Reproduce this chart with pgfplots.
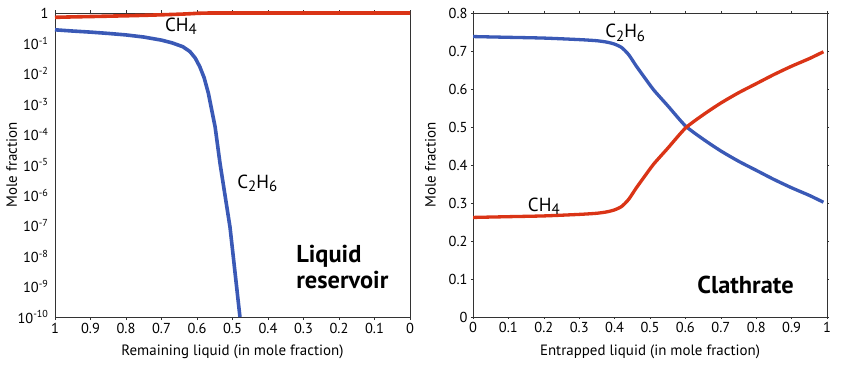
\documentclass[border=0pt]{standalone}
\usepackage{fontspec}
\setmainfont{PT Sans}
\usepackage{pgfplots}
\pgfplotsset{compat=1.18}
\definecolor{cblue}{HTML}{3A59B6}
\definecolor{cred}{HTML}{DA3416}
\definecolor{caxis}{HTML}{333333}

\newcommand{\sub}[1]{\raisebox{-0.35ex}{\fontsize{15}{15}\selectfont #1}}

\pgfplotsset{
  panel/.style={
    scale only axis, width=355bp, height=304bp,
    axis line style={caxis, line width=0.9bp},
    tick align=outside, major tick length=3bp,
    tick style={caxis, line width=0.6bp},
    /pgf/number format/assume math mode=true,
    tick label style={font=\fontsize{14.5}{14.5}\selectfont},
    label style={font=\fontsize{15}{15}\selectfont},
    xlabel style={at={(axis description cs:0.5,0)}, anchor=center, yshift=-35bp},
    ylabel style={at={(axis description cs:-0.122,0.5)}, anchor=center, rotate=0},
    xtick={0,0.1,...,1},
    xticklabels={0,0.1,0.2,0.3,0.4,0.5,0.6,0.7,0.8,0.9,1},
    xmin=0, xmax=1,
  },
}
\tikzset{
  gas/.style={font=\fontsize{19}{19}\selectfont},
  tag/.style={font=\fontsize{24.5}{26}\selectfont\bfseries, align=left},
}

\begin{document}
\begin{tikzpicture}[x=1bp,y=1bp]
\path[use as bounding box] (0,0) rectangle (843,365);

% left panel: liquid reservoir, log scale
\begin{axis}[panel,
  at={(55bp,48bp)}, anchor=south west,
  x dir=reverse,
  ymode=log, ymin=1e-10, ymax=1,
  ytick={1e-10,1e-9,1e-8,1e-7,1e-6,1e-5,1e-4,1e-3,1e-2,1e-1,1},
  yticklabels={10\textsuperscript{-10},10\textsuperscript{-9},10\textsuperscript{-8},10\textsuperscript{-7},10\textsuperscript{-6},10\textsuperscript{-5},10\textsuperscript{-4},10\textsuperscript{-3},10\textsuperscript{-2},10\textsuperscript{-1},1},
  ytick style={draw=none},
  minor ytick={}, yminorticks=false,
  xlabel={Remaining liquid (in mole fraction)},
  ylabel={Mole fraction},
  clip=false,
]
\addplot[cblue, line width=3.6bp] coordinates {
  (1.00,0.28) (0.95,0.255) (0.90,0.235) (0.85,0.213) (0.80,0.19)
  (0.75,0.162) (0.70,0.128) (0.67,0.104) (0.64,0.078) (0.62,0.054)
  (0.605,0.033) (0.592,0.017) (0.58,0.0075) (0.568,0.0023)
  (0.549,1.8e-4) (0.535,1.1e-5) (0.507,9e-8) (0.479,1e-10)
};
\addplot[cred, line width=3.6bp] coordinates {
  (1.00,0.72) (0.95,0.745) (0.90,0.765) (0.85,0.787) (0.80,0.81)
  (0.75,0.838) (0.70,0.872) (0.67,0.896) (0.64,0.922) (0.62,0.946)
  (0.605,0.967) (0.592,0.983) (0.58,0.992) (0.568,0.997)
  (0.50,0.999) (0.0,0.999)
};
\node[gas] at (axis cs:0.645,0.36) {CH\sub{4}};
\node[gas] at (axis cs:0.43,2.5e-6) {C\sub{2}H\sub{6}};
\node[tag, anchor=north west] at (axis cs:0.33,3e-8) {Liquid\\reservoir};
\end{axis}

% right panel: clathrate
\begin{axis}[panel,
  at={(473bp,48bp)}, anchor=south west,
  width=354bp,
  ymin=0, ymax=0.8,
  ytick={0,0.1,...,0.8},
  yticklabels={0,0.1,0.2,0.3,0.4,0.5,0.6,0.7,0.8},
  major tick length=2bp,
  xlabel={Entrapped liquid (in mole fraction)},
  ylabel={Mole fraction},
  ylabel style={at={(axis description cs:-0.12,0.5)}},
]
\addplot[cblue, line width=3.3bp, smooth, tension=0.4] coordinates {
  (0,0.738) (0.1,0.736) (0.2,0.734) (0.3,0.730) (0.35,0.727)
  (0.38,0.723) (0.40,0.718) (0.42,0.709) (0.44,0.690) (0.46,0.662)
  (0.48,0.636) (0.51,0.598) (0.55,0.556) (0.60,0.503) (0.65,0.468)
  (0.70,0.437) (0.75,0.410) (0.80,0.386) (0.85,0.362) (0.90,0.340)
  (0.95,0.320) (0.99,0.302)
};
\addplot[cred, line width=3.3bp, smooth, tension=0.4] coordinates {
  (0,0.262) (0.1,0.264) (0.2,0.266) (0.3,0.270) (0.35,0.273)
  (0.38,0.277) (0.40,0.282) (0.42,0.291) (0.44,0.310) (0.46,0.338)
  (0.48,0.364) (0.51,0.402) (0.55,0.444) (0.60,0.497) (0.65,0.532)
  (0.70,0.563) (0.75,0.590) (0.80,0.614) (0.85,0.638) (0.90,0.660)
  (0.95,0.680) (0.99,0.698)
};
\node[gas] at (axis cs:0.43,0.748) {C\sub{2}H\sub{6}};
\node[gas] at (axis cs:0.2,0.292) {CH\sub{4}};
\node[tag] at (axis cs:0.77,0.085) {Clathrate};
\end{axis}
\end{tikzpicture}
\end{document}
